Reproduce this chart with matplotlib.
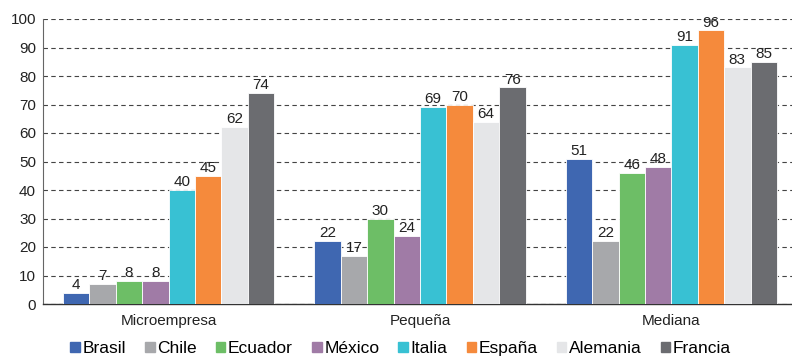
import matplotlib
matplotlib.use("Agg")
import matplotlib.pyplot as plt
import numpy as np

categories = ["Microempresa", "Pequeña", "Mediana"]
countries = ["Brasil", "Chile", "Ecuador", "México", "Italia", "España", "Alemania", "Francia"]
values = {
    "Brasil":   [4, 22, 51],
    "Chile":    [7, 17, 22],
    "Ecuador":  [8, 30, 46],
    "México":   [8, 24, 48],
    "Italia":   [40, 69, 91],
    "España":   [45, 70, 96],
    "Alemania": [62, 64, 83],
    "Francia":  [74, 76, 85],
}
colors = ["#3F67B1", "#A7A8AB", "#6DBE66", "#A07BA6", "#38C1D3", "#F58A3C", "#E5E6E8", "#6B6C70"]

plt.rcParams['font.family'] = ['Liberation Sans', 'DejaVu Sans']
fig = plt.figure(figsize=(7.92, 3.56), dpi=100)
ax = fig.add_axes([43/792, 1-304/356, (792-43)/792, 285/356])

x = np.arange(len(categories))
w = 0.105
n = len(countries)
for i, (c, col) in enumerate(zip(countries, colors)):
    pos = x + (i - (n-1)/2) * w
    ax.bar(pos, values[c], width=w, color=col, edgecolor="white", linewidth=0.6, label=c, zorder=3)
    for p, v in zip(pos, values[c]):
        ax.text(p, v + 0.3, str(v), ha="center", va="bottom", fontsize=11, color="#222222", zorder=4)

ax.set_xlim(-0.5, 2.48)
ax.set_ylim(0, 100)
ax.set_yticks(range(0, 101, 10))
ax.yaxis.grid(True, linestyle=(0, (4, 3)), color="#444444", linewidth=0.8, zorder=0)
ax.set_axisbelow(True)
ax.set_xticks(x)
ax.set_xticklabels(categories, fontsize=11)
ax.tick_params(axis="both", length=0, labelsize=11, colors="#222222")
ax.tick_params(axis="x", pad=7)
ax.tick_params(axis="y", pad=5)
for s in ["top", "right"]:
    ax.spines[s].set_visible(False)
ax.spines["left"].set_color("#666666")
ax.spines["bottom"].set_color("#333333")
ax.spines["bottom"].set_linewidth(1.0)

handles = [plt.Rectangle((0, 0), 1, 1, color=col) for col in colors]
fig.legend(handles, countries, loc="lower center", bbox_to_anchor=(0.506, -0.045), ncol=8,
           frameon=False, fontsize=12.5, handlelength=0.55, handleheight=0.55,
           handletextpad=0.15, columnspacing=1.1)

fig.savefig("out.png", dpi=100)
